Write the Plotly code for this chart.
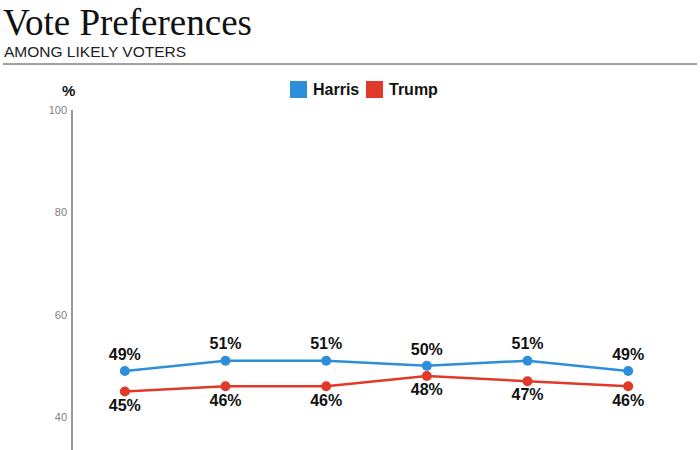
import plotly.graph_objects as go

categories = ["1", "2", "3", "4", "5", "6"]
harris = [49, 51, 51, 50, 51, 49]
trump = [45, 46, 46, 48, 47, 46]
y_ticks = [40, 60, 80, 100]
series_names = ["Harris", "Trump"]

BLUE = "#2d8fd9"
RED = "#e0392a"

W, H = 700, 450
ML, MR, MT, MB = 73, 23, 110, 0
PW = W - ML - MR
PH = H - MT - MB

def px_x(px):
    return (px - ML) / PW

def px_y(py):
    return (H - MB - py) / PH

fig = go.Figure()

label_font = dict(family="Liberation Sans, Arial, sans-serif", size=16, color="#111", weight="bold")

fig.add_trace(go.Scatter(
    x=categories, y=harris, mode="lines+markers+text", name=series_names[0],
    line=dict(color=BLUE, width=2.5), marker=dict(color=BLUE, size=10),
    text=[f"{v}%" for v in harris], textposition="top center",
    textfont=label_font, showlegend=False, cliponaxis=False,
))
fig.add_trace(go.Scatter(
    x=categories, y=trump, mode="lines+markers+text", name=series_names[1],
    line=dict(color=RED, width=2.5), marker=dict(color=RED, size=10),
    text=[f"{v}%" for v in trump], textposition="bottom center",
    textfont=label_font, showlegend=False, cliponaxis=False,
))

legend_font = dict(family="Liberation Sans, Arial, sans-serif", size=16, color="#111", weight="bold")
shapes = [
    dict(type="line", xref="paper", yref="paper", x0=px_x(3), x1=px_x(697),
         y0=px_y(64), y1=px_y(64), line=dict(color="#444", width=1)),
]
annotations = [
    dict(text="Vote Preferences", x=px_x(1), y=px_y(0), xref="paper", yref="paper",
         xanchor="left", yanchor="top", showarrow=False,
         font=dict(family="Liberation Serif, Times New Roman, serif", size=37, color="#111")),
    dict(text="AMONG LIKELY VOTERS", x=px_x(2), y=px_y(52), xref="paper", yref="paper",
         xanchor="left", yanchor="middle", showarrow=False,
         font=dict(family="Liberation Sans, Arial, sans-serif", size=15.5, color="#222")),
    dict(text="<b>%</b>", x=px_x(68), y=px_y(90), xref="paper", yref="paper",
         xanchor="center", yanchor="middle", showarrow=False,
         font=dict(family="Liberation Sans, Arial, sans-serif", size=15, color="#111")),
]
# manual legend
for name, col, x0 in zip(series_names, [BLUE, RED], [290, 366]):
    shapes.append(dict(type="rect", xref="paper", yref="paper",
                       x0=px_x(x0), x1=px_x(x0 + 17), y0=px_y(98), y1=px_y(81),
                       fillcolor=col, line=dict(width=0)))
    annotations.append(dict(text=name, x=px_x(x0 + 21), y=px_y(89.5), xref="paper", yref="paper",
                            xanchor="left", yanchor="middle", showarrow=False, font=legend_font))

fig.update_layout(
    width=W, height=H,
    margin=dict(l=ML, r=MR, t=MT, b=MB),
    paper_bgcolor="white", plot_bgcolor="white",
    showlegend=False,
    xaxis=dict(
        type="category", range=[-0.515, 5.485], showticklabels=False, showgrid=False,
        zeroline=False, showline=False, ticks="",
    ),
    yaxis=dict(
        range=[100 - (H - MB - MT) / 5.117, 100], tickvals=y_ticks, ticktext=[str(v) for v in y_ticks],
        showgrid=False, zeroline=False, showline=True, linecolor="#999", linewidth=1.5,
        ticks="", ticklabelstandoff=2,
        tickfont=dict(family="Liberation Sans, Arial, sans-serif", size=11, color="#808080"),
    ),
    annotations=annotations,
    shapes=shapes,
)

fig.write_html("out.html", config={"displayModeBar": False},
               post_script="document.body.style.margin='0';")
